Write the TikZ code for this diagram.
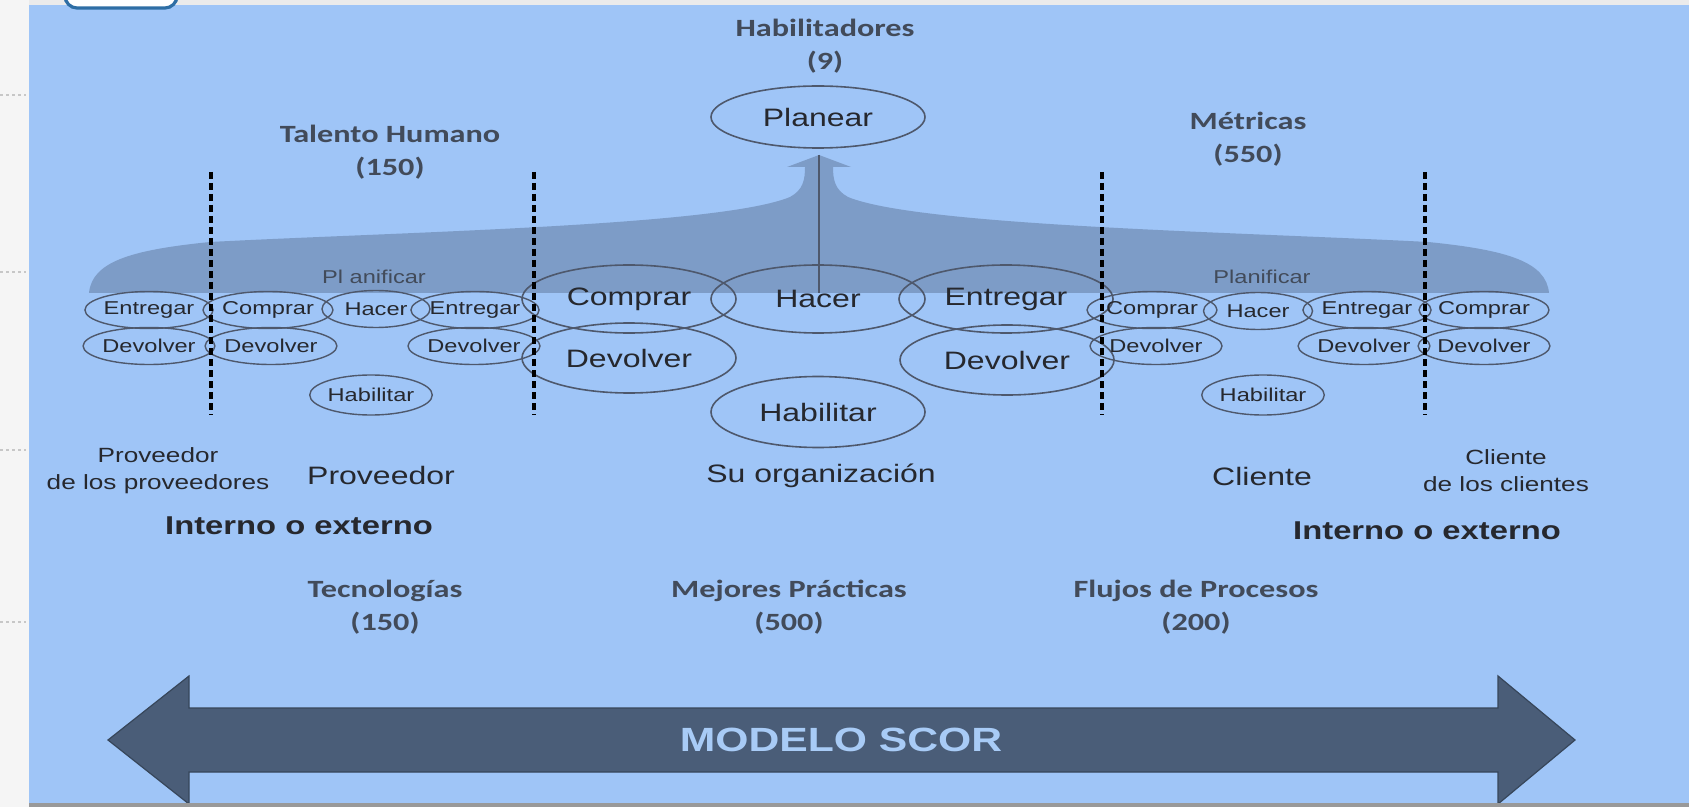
\documentclass[tikz,border=0pt]{standalone}
\usepackage{fontspec}
\usepackage{tikz}
\usetikzlibrary{shapes.geometric}

\newfontfamily\arialw[FakeStretch=1.27]{Liberation Sans}
\newfontfamily\calw[FakeStretch=1.3]{Carlito}

\definecolor{panel}{RGB}{159,197,247}
\definecolor{band}{RGB}{125,156,199}
\definecolor{scorarrow}{RGB}{74,93,120}
\definecolor{scortext}{RGB}{168,203,246}
\definecolor{ellline}{RGB}{78,88,108}
\definecolor{headc}{RGB}{66,75,90}
\definecolor{txt}{RGB}{38,40,46}
\definecolor{uiblue}{RGB}{46,110,165}

\begin{document}
\begin{tikzpicture}[x=0.5pt, y=-0.5pt]
        \tikzstyle{every node} = [inner sep=0pt]
        \tikzstyle{bigell} = [ellipse, draw=ellline, line width=0.8pt, minimum width=107pt, minimum height=34pt, text=txt, font=\arialw\fontsize{12.6}{14}\selectfont]
        \tikzstyle{smallell} = [ellipse, draw=ellline, line width=0.7pt, minimum height=18.5pt, text=txt, font=\arialw\fontsize{9.3}{11}\selectfont]
        \tikzstyle{head} = [align=center, text=headc, font=\calw\bfseries\fontsize{12.4}{16.5}\selectfont]
        \tikzstyle{actor} = [text=txt, font=\arialw\fontsize{12.6}{14}\selectfont]
        \tikzstyle{actorsm} = [align=center, text=txt, font=\arialw\fontsize{10.3}{13.5}\selectfont]
        \tikzstyle{inout} = [text=txt, font=\arialw\bfseries\fontsize{12.9}{14}\selectfont]
        \tikzstyle{planif} = [text=headc, font=\arialw\fontsize{9.3}{11}\selectfont]
        \tikzstyle{divider} = [line width=1.6pt, dash pattern=on 3.5pt off 2pt]

        \useasboundingbox (0,0) rectangle (1689,807);
        % background
        \fill[black!4] (0,0) rectangle (1689,807);
        \fill[black!8] (29,0) rectangle (1689,5);
        \fill[panel] (29,5) rectangle (1689,803);
        \foreach \y in {95,272,450,622}
            \draw[black!22, line width=1pt, dash pattern=on 1.5pt off 1.5pt] (0,\y) -- (26,\y);
        \filldraw[fill=white, draw=uiblue, line width=1.6pt, rounded corners=6pt] (65,-20) rectangle (177,8);

        % planificar band, arrow up to Planear
        \coordinate (tip) at (819,155);
        \coordinate (foot) at (819,293);
        \fill[band] (89,293) .. controls (92,262) and (130,250) .. (210,242)
            .. controls (400,232) and (720,226) .. (790,197)
            .. controls (803,190) and (805,180) .. (805,167)
            -- (787,167) -- (tip) -- (851,167) -- (833,167)
            .. controls (833,180) and (835,190) .. (848,197)
            .. controls (918,226) and (1238,232) .. (1428,242)
            .. controls (1508,250) and (1546,262) .. (1549,293) -- cycle;
        \draw[ellline, line width=0.6pt] (tip) -- (foot);

        \node[planif] (pl1) at (374,277) {Pl anificar};
        \node[planif] (pl2) at (1262,277) {Planificar};

        % headings
        \node[head] (hab) at (825,46) {Habilitadores\\(9)};
        \node[head] (tal) at (390,152) {Talento Humano\\(150)};
        \node[head] (met) at (1248,139) {Métricas\\(550)};
        \node[head] (tec) at (385,607) {Tecnologías\\(150)};
        \node[head] (mej) at (789,607) {Mejores Prácticas\\(500)};
        \node[head] (flu) at (1196,607) {Flujos de Procesos\\(200)};

        % su organizacion
        \node[bigell, minimum height=31pt] (plan) at (818,117) {Planear};
        \node[bigell] (comp) at (629,299) {Comprar};
        \node[bigell] (hace) at (818,299) {Hacer};
        \node[bigell] (entr) at (1006,299) {Entregar};
        \node[bigell, minimum height=35pt] (devi) at (629,358) {Devolver};
        \node[bigell, minimum height=35pt] (devd) at (1007,360) {Devolver};
        \node[bigell, minimum height=35.5pt] (habi) at (818,412) {Habilitar};

        % proveedores y clientes
        \foreach \n/\x/\y/\w/\t in {1/149/310/61/Entregar, 2/268/310/58/Comprar, 3/376/309/54/Hacer,
                4/475/310/63.5/Entregar, 5/149/346/61/Devolver, 6/271/346/61.5/Devolver,
                7/474/346/66/Devolver, 9/1152/310/62/Comprar, 10/1258/311/54.5/Hacer,
                11/1367/310/61.5/Entregar, 12/1484/310/62/Comprar, 13/1156/346/66/Devolver,
                14/1364/346/64.5/Devolver, 15/1484/346/62/Devolver}
            \node[smallell, minimum width=\w pt] (s\n) at (\x,\y) {\t};
        \node[smallell, minimum width=60.5pt, minimum height=20pt] (s8) at (371,395) {Habilitar};
        \node[smallell, minimum width=60.5pt, minimum height=20pt] (s16) at (1263,395) {Habilitar};

        \foreach \i/\x in {1/211, 2/534, 3/1102, 4/1425} {
            \coordinate (top\i) at (\x,172);
            \coordinate (bot\i) at (\x,415);
            \draw[divider] (top\i) -- (bot\i);
        }

        \node[actorsm] (pdp) at (158,471) {Proveedor\\de los proveedores};
        \node[actor] (prov) at (381,475) {Proveedor};
        \node[actor] (org) at (821,476) {Su organización};
        \node[actor] (cli) at (1262,476) {Cliente};
        \node[actorsm] (cdc) at (1506,471) {Cliente\\de los clientes};
        \node[inout] (io1) at (299,526) {Interno o externo};
        \node[inout] (io2) at (1427,531) {Interno o externo};

        % modelo scor
        \filldraw[fill=scorarrow, draw=scorarrow!75!black, line width=0.6pt] (108,740) -- (189,676) -- (189,708)
            -- (1498,708) -- (1498,676) -- (1575,740) -- (1498,804) -- (1498,772) -- (189,772) -- (189,804) -- cycle;
        \node[text=scortext, font=\arialw\bfseries\fontsize{16.8}{18}\selectfont] (scor) at (841,740) {MODELO SCOR};
        \fill[black!40] (29,803) rectangle (1689,807);
\end{tikzpicture}
\end{document}
